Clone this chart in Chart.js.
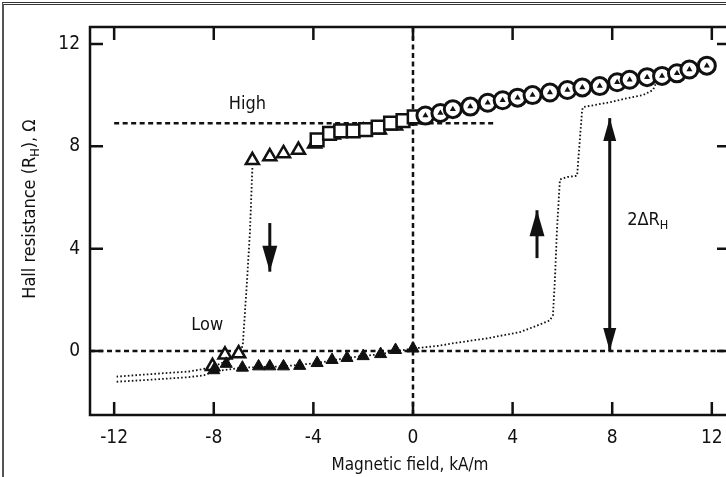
<!DOCTYPE html>
<html lang="en">
<head>
<meta charset="UTF-8">
<title>Hall resistance vs magnetic field</title>
<script src="https://cdn.jsdelivr.net/npm/chart.js@4"></script>
<style>
  html, body { margin: 0; padding: 0; background: #fff; overflow: hidden; }
  .wrap { position: relative; width: 745px; height: 477px; }
  .scan { position: absolute; left: 2px; top: 2px; right: 0; bottom: 0; border-left: 2px solid #555; border-top: 3px double #333; pointer-events: none; }
</style>
</head>
<body>
<div class="wrap">
  <canvas id="hall" width="745" height="477"></canvas>
  <div class="scan"></div>
</div>
<script>
// axis ranges and ticks
const xMin = -12.97, xMax = 12.73;
const yMin = -2.5, yMax = 12.66;
const xTicks = [-12, -8, -4, 0, 4, 8, 12];
const yTicks = [0, 4, 8, 12];

// open circles (upper branch, positive field)
const circleX = [0.5, 1.1, 1.6, 2.3, 3.0, 3.6, 4.2, 4.8, 5.5, 6.2, 6.8, 7.5, 8.2, 8.7, 9.4, 10.0, 10.6, 11.1, 11.8];
const circleY = [9.2, 9.3, 9.45, 9.55, 9.7, 9.8, 9.9, 10.0, 10.1, 10.2, 10.3, 10.35, 10.5, 10.6, 10.7, 10.75, 10.85, 11.0, 11.15];

// open squares
const squareX = [-3.85, -3.35, -2.9, -2.4, -1.9, -1.4, -0.9, -0.4, 0.05];
const squareY = [8.25, 8.5, 8.6, 8.6, 8.65, 8.75, 8.9, 9.0, 9.15];

// open triangles, upper and lower branch
const triUpX = [-6.45, -5.75, -5.2, -4.6, -3.95, -3.2, -2.6, -2.0, -1.35, -0.7, -0.15];
const triUpY = [7.45, 7.6, 7.72, 7.85, 8.1, 8.45, 8.55, 8.6, 8.65, 8.8, 9.0];
const triLowX = [-8.05, -7.55, -7.0];
const triLowY = [-0.6, -0.15, -0.1];

// filled triangles (lower branch)
const fillX = [-8.0, -7.5, -6.85, -6.2, -5.75, -5.2, -4.55, -3.85, -3.25, -2.65, -2.0, -1.3, -0.7, 0.0];
const fillY = [-0.75, -0.5, -0.65, -0.6, -0.6, -0.6, -0.58, -0.47, -0.35, -0.27, -0.2, -0.12, 0.04, 0.1];

// dotted traces: field sweeping down, then up
const downX = [-6.45, -6.55, -6.67, -6.83, -6.9, -7.3, -8.1, -9.0, -10.5, -11.9];
const downY = [7.15, 4.6, 2.66, 0.3, 0.0, -0.3, -0.65, -0.8, -0.9, -1.0];
const upX = [-11.9, -10.5, -9.0, -8.4, -8.0, -6.85, -5.2, -3.85, -2.65, -1.3, 0.0, 1.0, 1.6, 3.0, 4.3, 5.0, 5.5, 5.62, 5.7, 5.78, 5.9, 6.2, 6.59, 6.79, 6.83, 7.23, 7.9, 8.6, 9.24, 9.64, 9.75];
const upY = [-1.2, -1.12, -1.02, -0.95, -0.8, -0.65, -0.6, -0.47, -0.27, -0.12, 0.1, 0.2, 0.3, 0.5, 0.74, 1.0, 1.2, 1.4, 2.8, 4.7, 6.7, 6.8, 6.85, 9.4, 9.53, 9.6, 9.72, 9.88, 10.0, 10.2, 10.45];

// reference levels
const highX = [-12, 3.3], highY = [8.9, 8.9];
const lowX = [xMin, xMax], lowY = [0, 0];
const zeroX = [0, 0], zeroY = [yMin, yMax];

// annotations (data coordinates)
const arrows = [
  { x: -5.75, from: 5.0, to: 3.1 },
  { x: 4.98, from: 3.63, to: 5.5 },
  { x: 7.9, from: 4.5, to: 9.1, both: true, other: 0 }
];
const labels = [
  { x: -7.4, y: 9.65, parts: [{ t: 'High' }] },
  { x: -8.9, y: 1.0, parts: [{ t: 'Low' }] },
  { x: 8.6, y: 5.1, parts: [{ t: '2ΔR' }, { t: 'H', sub: true }] }
];
const yTitle = [{ t: 'Hall resistance (R' }, { t: 'H', sub: true }, { t: '), Ω' }];

const FONT = "'Liberation Sans Narrow', 'DejaVu Sans Condensed', sans-serif";
const INK = '#111';

const pts = (xs, ys) => xs.map((x, i) => ({ x: x, y: ys[i] }));

function richWidth(ctx, parts, size) {
  let w = 0;
  parts.forEach(p => {
    ctx.font = (p.sub ? size * 0.7 : size) + 'px ' + FONT;
    w += ctx.measureText(p.t).width;
  });
  return w;
}

function drawRich(ctx, parts, x, y, size) {
  let cx = x;
  parts.forEach(p => {
    const s = p.sub ? size * 0.7 : size;
    ctx.font = s + 'px ' + FONT;
    ctx.fillText(p.t, cx, p.sub ? y + size * 0.3 : y);
    cx += ctx.measureText(p.t).width;
  });
}

function arrowHead(ctx, x, tipY, dir, len, hw) {
  ctx.beginPath();
  ctx.moveTo(x, tipY);
  ctx.lineTo(x - hw, tipY - dir * len);
  ctx.lineTo(x + hw, tipY - dir * len);
  ctx.closePath();
  ctx.fill();
}

const framePlugin = {
  id: 'frame',
  afterDraw(chart) {
    const { ctx, chartArea: a, scales: { x, y } } = chart;
    ctx.save();
    ctx.strokeStyle = INK;
    ctx.fillStyle = INK;

    // arrows
    arrows.forEach(ar => {
      const px = x.getPixelForValue(ar.x);
      const tip = y.getPixelForValue(ar.to);
      const base = y.getPixelForValue(ar.both ? ar.other : ar.from);
      const dir = tip > base ? 1 : -1;
      ctx.lineWidth = 3;
      ctx.beginPath();
      ctx.moveTo(px, base);
      ctx.lineTo(px, tip);
      ctx.stroke();
      arrowHead(ctx, px, tip, dir, ar.both ? 23 : 26, ar.both ? 6.5 : 7.5);
      if (ar.both) arrowHead(ctx, px, base, -dir, 23, 6.5);
    });

    // text labels
    ctx.textBaseline = 'middle';
    ctx.textAlign = 'left';
    labels.forEach(l => {
      drawRich(ctx, l.parts, x.getPixelForValue(l.x), y.getPixelForValue(l.y), 18);
    });

    // y axis title with subscript
    ctx.save();
    ctx.translate(30, 209);
    ctx.rotate(-Math.PI / 2);
    const tw = richWidth(ctx, yTitle, 18);
    drawRich(ctx, yTitle, -tw / 2, 0, 18);
    ctx.restore();

    // frame and inward ticks
    ctx.lineWidth = 2.5;
    ctx.strokeRect(a.left, a.top, a.right - a.left, a.bottom - a.top);
    const tl = 13;
    ctx.beginPath();
    xTicks.forEach(v => {
      const px = x.getPixelForValue(v);
      ctx.moveTo(px, a.bottom); ctx.lineTo(px, a.bottom - tl);
      ctx.moveTo(px, a.top); ctx.lineTo(px, a.top + tl);
    });
    yTicks.forEach(v => {
      const py = y.getPixelForValue(v);
      ctx.moveTo(a.left, py); ctx.lineTo(a.left + tl, py);
      ctx.moveTo(a.right, py); ctx.lineTo(a.right - tl, py);
    });
    ctx.stroke();
    ctx.restore();
  }
};

const refLine = (xs, ys) => ({
  data: pts(xs, ys), showLine: true, borderColor: INK, borderWidth: 2.5,
  borderDash: [5, 3.5], pointRadius: 0, order: 10
});
const dotLine = (xs, ys) => ({
  data: pts(xs, ys), showLine: true, borderColor: INK, borderWidth: 1.8,
  borderDash: [1.6, 2.2], pointRadius: 0, tension: 0, order: 9
});

new Chart(document.getElementById('hall'), {
  type: 'scatter',
  data: {
    datasets: [
      refLine(highX, highY),
      refLine(lowX, lowY),
      refLine(zeroX, zeroY),
      dotLine(downX, downY),
      dotLine(upX, upY),
      { data: pts(triUpX, triUpY), pointStyle: 'triangle', pointRadius: 7.5, borderWidth: 2.5,
        borderColor: INK, backgroundColor: '#fff', order: 5 },
      { data: pts(triLowX, triLowY), pointStyle: 'triangle', pointRadius: 7.5, borderWidth: 2.5,
        borderColor: INK, backgroundColor: '#fff', order: 5 },
      { data: pts(squareX, squareY), pointStyle: 'rect', pointRadius: 9, borderWidth: 2.5,
        borderColor: INK, backgroundColor: '#fff', order: 4 },
      { data: pts(circleX, circleY), pointStyle: 'circle', pointRadius: 8.5, borderWidth: 3,
        borderColor: INK, backgroundColor: '#fff', order: 3 },
      { data: pts(circleX, circleY), pointStyle: 'triangle', pointRadius: 3.5, borderWidth: 0,
        backgroundColor: INK, order: 2 },
      { data: pts(fillX, fillY), pointStyle: 'triangle', pointRadius: 7, borderWidth: 1,
        borderColor: INK, backgroundColor: INK, order: 1 }
    ]
  },
  options: {
    responsive: false,
    animation: false,
    events: [],
    layout: { padding: { top: 27, right: 15, left: 0, bottom: 0 } },
    plugins: { legend: { display: false }, tooltip: { enabled: false } },
    scales: {
      x: {
        type: 'linear', min: xMin, max: xMax,
        afterBuildTicks: s => { s.ticks = xTicks.map(v => ({ value: v })); },
        afterFit: s => { s.height = 62; },
        grid: { display: false, drawTicks: false },
        border: { display: false },
        ticks: { padding: 12, color: INK, maxRotation: 0, font: { family: FONT, size: 19 } },
        title: { display: true, text: 'Magnetic field, kA/m', color: INK,
          font: { family: FONT, size: 17, lineHeight: 1.1 }, padding: { top: 0, bottom: 2 } }
      },
      y: {
        type: 'linear', min: yMin, max: yMax,
        afterBuildTicks: s => { s.ticks = yTicks.map(v => ({ value: v })); },
        afterFit: s => { s.width = 90; },
        grid: { display: false, drawTicks: false },
        border: { display: false },
        ticks: { padding: 10, color: INK, font: { family: FONT, size: 19 } }
      }
    }
  },
  plugins: [framePlugin]
});
</script>
</body>
</html>
